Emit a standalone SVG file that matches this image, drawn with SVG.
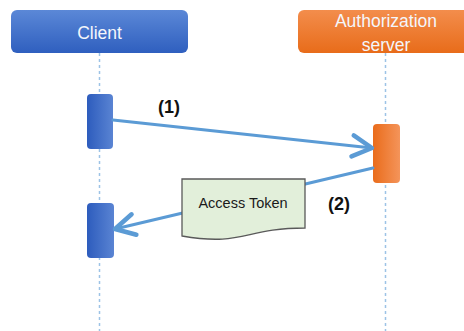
<svg xmlns="http://www.w3.org/2000/svg" width="464" height="331" viewBox="0 0 464 331">
  <defs>
    <linearGradient id="gBlueV" x1="0" y1="0" x2="0" y2="1">
      <stop offset="0" stop-color="#5b88d7"/>
      <stop offset="1" stop-color="#2f5fbf"/>
    </linearGradient>
    <linearGradient id="gBlueH" x1="0" y1="0" x2="1" y2="0">
      <stop offset="0" stop-color="#2d5cbd"/>
      <stop offset="1" stop-color="#5a84d3"/>
    </linearGradient>
    <linearGradient id="gOrangeV" x1="0" y1="0" x2="0" y2="1">
      <stop offset="0" stop-color="#f38d4c"/>
      <stop offset="1" stop-color="#e86c1a"/>
    </linearGradient>
    <linearGradient id="gOrangeH" x1="0" y1="0" x2="1" y2="0">
      <stop offset="0" stop-color="#ea6c1b"/>
      <stop offset="1" stop-color="#f4945a"/>
    </linearGradient>
    <marker id="arrow" markerUnits="userSpaceOnUse" markerWidth="30" markerHeight="30" refX="0" refY="0" viewBox="-16 -10 20 20" orient="auto">
      <path d="M-13,-7 L0,0 L-13,7" fill="none" stroke="#5b9bd5" stroke-width="3" stroke-linecap="round" stroke-linejoin="round"/>
    </marker>
  </defs>
  <style>
    .lifeline { stroke: #9dc3e6; stroke-width: 1.5; stroke-dasharray: 3 3; fill: none; }
    .msg { stroke: #5b9bd5; stroke-width: 3; fill: none; stroke-linecap: round; }
    .hdr { font-family: "Liberation Sans", Arial, sans-serif; font-size: 17.5px; fill: #f4f6fb; text-anchor: middle; }
    .lbl { font-family: "Liberation Sans", Arial, sans-serif; font-size: 18px; font-weight: bold; fill: #111; text-anchor: middle; }
    .doctext { font-family: "Liberation Sans", Arial, sans-serif; font-size: 14.5px; fill: #1a1a1a; text-anchor: middle; }
  </style>

  <g id="lifelines">
    <line class="lifeline" x1="99.5" y1="53" x2="99.5" y2="331"/>
    <line class="lifeline" x1="385.5" y1="53" x2="385.5" y2="331"/>
  </g>

  <g id="client">
    <rect x="11" y="10" width="177" height="43" rx="6" fill="url(#gBlueV)"/>
    <text class="hdr" x="99.5" y="39">Client</text>
  </g>

  <g id="auth-server">
    <rect x="298" y="10" width="177" height="43" rx="6" fill="url(#gOrangeV)"/>
    <text class="hdr" x="386" y="27">Authorization</text>
    <text class="hdr" x="386" y="51">server</text>
  </g>

  <g id="client-activation-1">
    <rect x="87" y="94" width="26" height="55" rx="4" fill="url(#gBlueH)"/>
  </g>
  <g id="client-activation-2">
    <rect x="87" y="203" width="27" height="55" rx="4" fill="url(#gBlueH)"/>
  </g>
  <g id="auth-activation">
    <rect x="373" y="124" width="27" height="59" rx="4" fill="url(#gOrangeH)"/>
  </g>

  <g id="connectors">
    <line class="msg" x1="113" y1="120" x2="372" y2="148" marker-end="url(#arrow)"/>
    <line class="msg" x1="373" y1="168" x2="115" y2="229" marker-end="url(#arrow)"/>
    <text class="lbl" x="169" y="113">(1)</text>
    <text class="lbl" x="339" y="210">(2)</text>
  </g>

  <g id="access-token">
    <path d="M182,179 H305 V228 C243.5,228 243.5,246.6 182,236 Z" fill="#e2efda" stroke="#595959" stroke-width="1.3"/>
    <text class="doctext" x="243" y="208">Access Token</text>
  </g>
</svg>
